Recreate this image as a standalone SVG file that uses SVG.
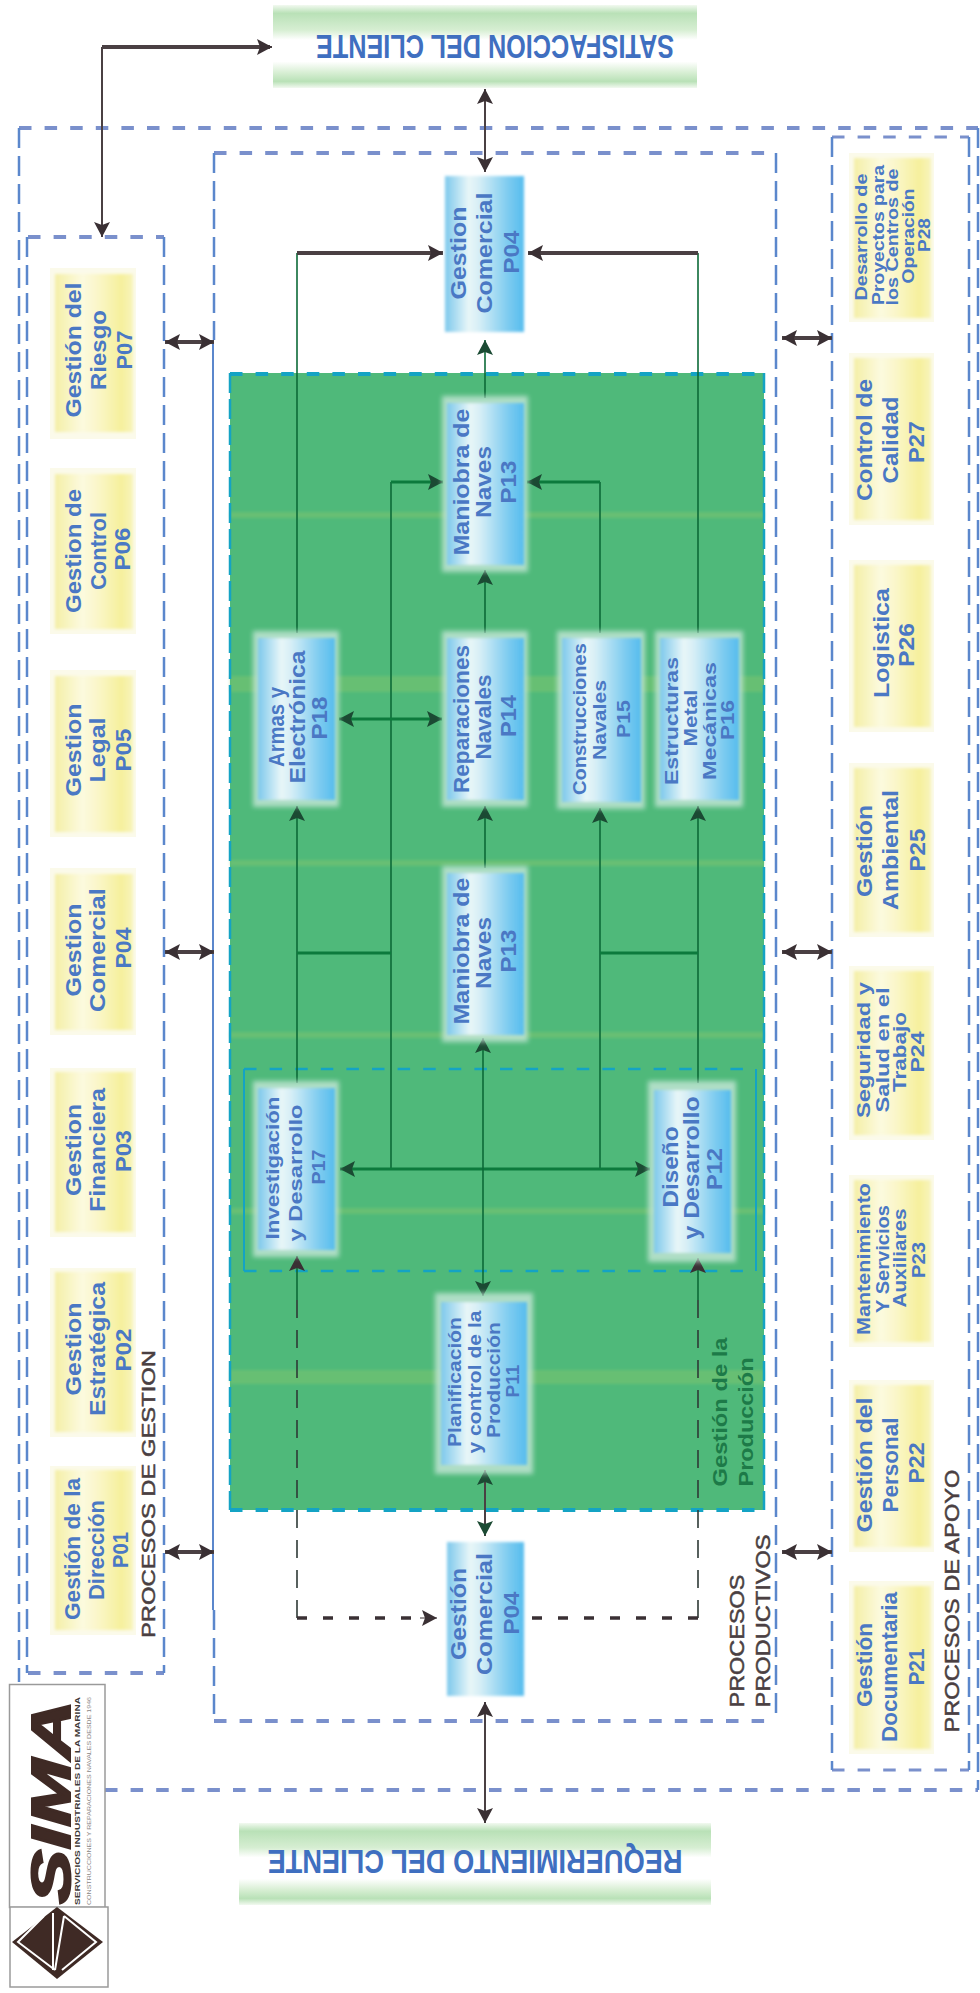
<svg xmlns="http://www.w3.org/2000/svg" width="980" height="1993" viewBox="0 0 980 1993">
<style>
text{font-family:"Liberation Sans",Arial,sans-serif;text-anchor:middle}
.t{font-weight:700;font-size:22px;fill:#4a78c4}
.s{font-weight:700;font-size:17px;fill:#4a78c4}
.m{font-weight:700;font-size:19px;fill:#4a78c4}
.d{font-weight:400;font-size:21px;fill:#4a3f42;stroke:#4a3f42;stroke-width:.5}
.d2{font-weight:400;font-size:18px;fill:#4a3f42;stroke:#4a3f42;stroke-width:.5}
.g{font-weight:700;font-size:21px;fill:#1d7a48}
.h{font-weight:700;font-size:33px;fill:#3f6fc0}
.y{fill:url(#yel);filter:url(#soft1)}
.b{fill:url(#blu);filter:url(#soft1)}
.hy{fill:#fbfaea}
.hb{fill:#cfeadf;opacity:.75;filter:url(#soft)}
.dh{fill:none;stroke:#7a90cc;stroke-width:4;stroke-dasharray:12.500 13.100}
.dv{fill:none;stroke:#5b87cc;stroke-width:2.500;stroke-dasharray:20 8}
.dt{fill:none;stroke:#14a3c4;stroke-width:4;stroke-dasharray:12.500 13.100}
.dtv{fill:none;stroke:#14a3c4;stroke-width:2.500;stroke-dasharray:20 6}
.ln{fill:none;stroke:#0c6a38;stroke-width:1.600}
.lh{fill:none;stroke:#0c7a3c;stroke-width:3}
.lk{fill:none;stroke:#4a4043;stroke-width:2}
.lkh{fill:none;stroke:#4a4043;stroke-width:4}
.lda{fill:none;stroke:#2f3a36;stroke-width:1.600;stroke-dasharray:18 12}
.ldh{fill:none;stroke:#3a3034;stroke-width:3.500;stroke-dasharray:10 16}
.ag{marker-end:url(#hg)}
.ak{marker-end:url(#hk)}
.agb{marker-start:url(#hgs);marker-end:url(#hg)}
.akb{marker-start:url(#hks);marker-end:url(#hk)}
</style>
<defs>
<linearGradient id="yel" x1="0" x2="1" y1="0" y2="0"><stop offset="0" stop-color="#f4efa6"/><stop offset=".35" stop-color="#fcfadf"/><stop offset=".55" stop-color="#faf6c8"/><stop offset=".85" stop-color="#f6f09c"/><stop offset="1" stop-color="#f8f4bc"/></linearGradient>
<linearGradient id="blu" x1="0" x2="1" y1="0" y2="0"><stop offset="0" stop-color="#7cc8ec"/><stop offset=".3" stop-color="#e8f6f8"/><stop offset=".42" stop-color="#d8eff6"/><stop offset=".8" stop-color="#7ccbf0"/><stop offset="1" stop-color="#56bcee"/></linearGradient>
<linearGradient id="grn" x1="0" x2="0" y1="0" y2="1"><stop offset="0" stop-color="#f2f9f0"/><stop offset=".1" stop-color="#b9e1b7"/><stop offset=".3" stop-color="#d6eed2"/><stop offset=".42" stop-color="#fff"/><stop offset=".68" stop-color="#fff"/><stop offset=".82" stop-color="#d6eed2"/><stop offset=".92" stop-color="#b9e1b7"/><stop offset="1" stop-color="#f2f9f0"/></linearGradient>
<filter id="soft" x="-10%" y="-10%" width="120%" height="120%"><feGaussianBlur stdDeviation="2.500"/></filter>
<filter id="soft1" x="-10%" y="-10%" width="120%" height="120%"><feGaussianBlur stdDeviation="1.500"/></filter>
<marker id="hg" markerUnits="userSpaceOnUse" markerWidth="18" markerHeight="18" refX="15" refY="8" orient="auto"><path d="M0 0L15 8L0 16L3 8Z" fill="#1b4a33"/></marker>
<marker id="hgs" markerUnits="userSpaceOnUse" markerWidth="18" markerHeight="18" refX="0" refY="8" orient="auto"><path d="M15 0L0 8L15 16L12 8Z" fill="#1b4a33"/></marker>
<marker id="hk" markerUnits="userSpaceOnUse" markerWidth="18" markerHeight="18" refX="15" refY="8" orient="auto"><path d="M0 0L15 8L0 16L3 8Z" fill="#3a3034"/></marker>
<marker id="hks" markerUnits="userSpaceOnUse" markerWidth="18" markerHeight="18" refX="0" refY="8" orient="auto"><path d="M15 0L0 8L15 16L12 8Z" fill="#3a3034"/></marker>
</defs>
<rect width="980" height="1993" fill="#fff"/>

<g id="area-produccion">
<rect x="230" y="373" width="534" height="1137" fill="#4fb97a"/>
<g fill="#86c76c" opacity=".45" filter="url(#soft1)">
<rect x="230" y="512" width="534" height="6"/><rect x="230" y="676" width="534" height="16"/><rect x="230" y="860" width="534" height="6"/><rect x="230" y="1032" width="534" height="6"/><rect x="230" y="1208" width="534" height="6"/><rect x="230" y="1370" width="534" height="14"/>
</g>
<path class="dt" d="M230 374H764M230 1510H764"/>
<path class="dtv" d="M230 373V1510M764 373V1510"/>
<path class="dt" style="stroke-width:2.500" d="M244 1069H756M244 1271H756"/>
<path class="dtv" style="stroke-dasharray:none;stroke-width:2" d="M244 1069V1271M756 1069V1271"/>
</g>

<g id="marcos">
<path class="dh" d="M19 128H978M105 1790H978"/>
<path class="dv" d="M19 128V1682M978 128V1790"/>
<path class="dh" d="M28 237H164M28 1673H164"/>
<path class="dv" d="M27 237V1673M164 237V1673"/>
<path class="dh" d="M214 153H776M214 1721H776"/>
<path class="dv" d="M214 153V340M214 1610V1721M776 153V1721"/>
<path d="M213 340V1610" fill="none" stroke="#5b87cc" stroke-width="2"/>
<path class="dh" style="stroke-width:3" d="M832 137H969M832 1770H969"/>
<path class="dv" d="M832 137V1770M969 137V1770"/>
</g>

<g id="conectores">
<path class="lkh" d="M102 47H270"/><path class="lk ak" d="M102 47H272"/><path class="lk ak" d="M102 47V237"/>
<path class="lk akb" d="M485 89V172"/>
<path class="lkh akb" d="M165 342H214"/><path class="lkh akb" d="M165 952H214"/><path class="lkh akb" d="M165 1552H214"/>
<path class="lkh akb" d="M782 338H832"/><path class="lkh akb" d="M782 952H832"/><path class="lkh akb" d="M782 1552H832"/>
<path class="ln" d="M297 633V253"/><path class="lkh ak" d="M297 253H443"/>
<path class="ln" d="M698 633V253"/><path class="lkh ak" d="M698 253H528"/>
<path class="ln" d="M391 1168V482"/><path class="lh ag" d="M391 482H443"/>
<path class="ln" d="M600 633V482"/><path class="lh ag" d="M600 482H527"/>
<path class="ln ag" d="M485 398V340"/>
<path class="ln ag" d="M485 633V570"/>
<path class="ln ag" d="M485 868V806"/>
<path class="lh agb" d="M339 719H442"/>
<path class="ln ag" d="M297 1083V806"/>
<path class="ln ag" d="M600 1168V808"/>
<path class="ln ag" d="M698 1083V806"/>
<path class="lh" d="M297 953H391M600 953H698"/>
<path class="lh agb" d="M340 1169H650"/>
<path class="ln agb" d="M483 1038V1296"/>
<path class="ln ak" d="M297 1300V1256"/><path class="lda" d="M297 1300V1618"/>
<path class="ln ak" d="M698 1300V1258"/><path class="lda" d="M698 1300V1618"/>
<path class="ldh" d="M297 1618H423"/><path class="ak" d="M420 1618H437" fill="none" stroke="#3a3034" stroke-width="1"/>
<path class="ldh" d="M698 1618H528"/>
<path class="lk agb" d="M485 1470V1536"/>
<path class="lk akb" d="M485 1702V1823"/>
</g>

<g id="satisfaccion"><rect x="273" y="5" width="424" height="83" fill="url(#grn)"/><text class="h" transform="translate(495,35) rotate(180)" textLength="358" lengthAdjust="spacingAndGlyphs">SATISFACCION DEL CLIENTE</text></g>
<g id="requerimiento"><rect x="239" y="1823" width="472" height="82" fill="url(#grn)"/><text class="h" transform="translate(475,1850) rotate(180)" textLength="415" lengthAdjust="spacingAndGlyphs">REQUERIMIENTO DEL CLIENTE</text></g>

<g id="g-P07"><rect class="hy" x="50" y="268" width="86" height="171"/><rect class="y" x="55" y="274" width="78" height="158"/>
<text class="t" transform="translate(81,350) rotate(-90)" textLength="135" lengthAdjust="spacingAndGlyphs">Gestión del</text><text class="t" transform="translate(106,350) rotate(-90)" textLength="80" lengthAdjust="spacingAndGlyphs">Riesgo</text><text class="t" transform="translate(132,350) rotate(-90)" textLength="39" lengthAdjust="spacingAndGlyphs">P07</text></g>
<g id="g-P06"><rect class="hy" x="50" y="468" width="86" height="166"/><rect class="y" x="55" y="474" width="78" height="155"/>
<text class="t" transform="translate(81,551) rotate(-90)" textLength="124" lengthAdjust="spacingAndGlyphs">Gestion de</text><text class="t" transform="translate(106,551) rotate(-90)" textLength="78" lengthAdjust="spacingAndGlyphs">Control</text><text class="t" transform="translate(130,549) rotate(-90)" textLength="43" lengthAdjust="spacingAndGlyphs">P06</text></g>
<g id="g-P05"><rect class="hy" x="50" y="670" width="86" height="167"/><rect class="y" x="55" y="676" width="78" height="156"/>
<text class="t" transform="translate(81,750) rotate(-90)" textLength="93" lengthAdjust="spacingAndGlyphs">Gestion</text><text class="t" transform="translate(105,750) rotate(-90)" textLength="65" lengthAdjust="spacingAndGlyphs">Legal</text><text class="t" transform="translate(131,750) rotate(-90)" textLength="43" lengthAdjust="spacingAndGlyphs">P05</text></g>
<g id="g-P04"><rect class="hy" x="50" y="868" width="86" height="167"/><rect class="y" x="55" y="874" width="78" height="156"/>
<text class="t" transform="translate(81,950) rotate(-90)" textLength="93" lengthAdjust="spacingAndGlyphs">Gestion</text><text class="t" transform="translate(105,950) rotate(-90)" textLength="124" lengthAdjust="spacingAndGlyphs">Comercial</text><text class="t" transform="translate(131,948) rotate(-90)" textLength="41" lengthAdjust="spacingAndGlyphs">P04</text></g>
<g id="g-P03"><rect class="hy" x="50" y="1068" width="86" height="169"/><rect class="y" x="55" y="1072" width="78" height="160"/>
<text class="t" transform="translate(81,1150) rotate(-90)" textLength="92" lengthAdjust="spacingAndGlyphs">Gestion</text><text class="t" transform="translate(105,1150) rotate(-90)" textLength="124" lengthAdjust="spacingAndGlyphs">Financiera</text><text class="t" transform="translate(131,1151) rotate(-90)" textLength="42" lengthAdjust="spacingAndGlyphs">P03</text></g>
<g id="g-P02"><rect class="hy" x="50" y="1268" width="86" height="169"/><rect class="y" x="55" y="1272" width="78" height="160"/>
<text class="t" transform="translate(81,1349) rotate(-90)" textLength="93" lengthAdjust="spacingAndGlyphs">Gestion</text><text class="t" transform="translate(105,1349) rotate(-90)" textLength="134" lengthAdjust="spacingAndGlyphs">Estratégica</text><text class="t" transform="translate(131,1350) rotate(-90)" textLength="43" lengthAdjust="spacingAndGlyphs">P02</text></g>
<g id="g-P01"><rect class="hy" x="50" y="1466" width="86" height="169"/><rect class="y" x="55" y="1470" width="78" height="160"/>
<text class="t" transform="translate(80,1549) rotate(-90)" textLength="142" lengthAdjust="spacingAndGlyphs">Gestión de la</text><text class="t" transform="translate(104,1550) rotate(-90)" textLength="100" lengthAdjust="spacingAndGlyphs">Dirección</text><text class="t" transform="translate(128,1550) rotate(-90)" textLength="36" lengthAdjust="spacingAndGlyphs">P01</text></g>

<g id="a-P28"><rect class="hy" x="849" y="153" width="85" height="169"/><rect class="y" x="854" y="158" width="77" height="160"/>
<text class="s" transform="translate(867,237) rotate(-90)" textLength="127" lengthAdjust="spacingAndGlyphs">Desarrollo de</text><text class="s" transform="translate(884,235) rotate(-90)" textLength="140" lengthAdjust="spacingAndGlyphs">Proyectos para</text><text class="s" transform="translate(898,237) rotate(-90)" textLength="137" lengthAdjust="spacingAndGlyphs">los Centros de</text><text class="s" transform="translate(914,236) rotate(-90)" textLength="95" lengthAdjust="spacingAndGlyphs">Operación</text><text class="s" transform="translate(930,235) rotate(-90)" textLength="34" lengthAdjust="spacingAndGlyphs">P28</text></g>
<g id="a-P27"><rect class="hy" x="849" y="353" width="85" height="172"/><rect class="y" x="854" y="358" width="77" height="162"/>
<text class="t" transform="translate(872,440) rotate(-90)" textLength="122" lengthAdjust="spacingAndGlyphs">Control de</text><text class="t" transform="translate(898,440) rotate(-90)" textLength="87" lengthAdjust="spacingAndGlyphs">Calidad</text><text class="t" transform="translate(924,442) rotate(-90)" textLength="42" lengthAdjust="spacingAndGlyphs">P27</text></g>
<g id="a-P26"><rect class="hy" x="849" y="560" width="85" height="172"/><rect class="y" x="854" y="565" width="77" height="162"/>
<text class="t" transform="translate(889,643) rotate(-90)" textLength="110" lengthAdjust="spacingAndGlyphs">Logistica</text><text class="t" transform="translate(914,645) rotate(-90)" textLength="44" lengthAdjust="spacingAndGlyphs">P26</text></g>
<g id="a-P25"><rect class="hy" x="849" y="763" width="85" height="174"/><rect class="y" x="854" y="768" width="77" height="164"/>
<text class="t" transform="translate(872,851) rotate(-90)" textLength="92" lengthAdjust="spacingAndGlyphs">Gestión</text><text class="t" transform="translate(898,850) rotate(-90)" textLength="120" lengthAdjust="spacingAndGlyphs">Ambiental</text><text class="t" transform="translate(925,850) rotate(-90)" textLength="43" lengthAdjust="spacingAndGlyphs">P25</text></g>
<g id="a-P24"><rect class="hy" x="849" y="966" width="85" height="174"/><rect class="y" x="854" y="971" width="77" height="164"/>
<text class="m" transform="translate(870,1050) rotate(-90)" textLength="136" lengthAdjust="spacingAndGlyphs">Seguridad y</text><text class="m" transform="translate(889,1050) rotate(-90)" textLength="125" lengthAdjust="spacingAndGlyphs">Salud en el</text><text class="m" transform="translate(906,1052) rotate(-90)" textLength="80" lengthAdjust="spacingAndGlyphs">Trabajo</text><text class="m" transform="translate(924,1052) rotate(-90)" textLength="41" lengthAdjust="spacingAndGlyphs">P24</text></g>
<g id="a-P23"><rect class="hy" x="849" y="1175" width="85" height="172"/><rect class="y" x="854" y="1180" width="77" height="162"/>
<text class="m" transform="translate(870,1259) rotate(-90)" textLength="152" lengthAdjust="spacingAndGlyphs">Mantenimiento</text><text class="m" transform="translate(889,1259) rotate(-90)" textLength="108" lengthAdjust="spacingAndGlyphs">Y Servicios</text><text class="m" transform="translate(906,1258) rotate(-90)" textLength="99" lengthAdjust="spacingAndGlyphs">Auxiliares</text><text class="m" transform="translate(925,1260) rotate(-90)" textLength="36" lengthAdjust="spacingAndGlyphs">P23</text></g>
<g id="a-P22"><rect class="hy" x="849" y="1380" width="85" height="172"/><rect class="y" x="854" y="1385" width="77" height="162"/>
<text class="t" transform="translate(872,1465) rotate(-90)" textLength="135" lengthAdjust="spacingAndGlyphs">Gestión del</text><text class="t" transform="translate(898,1465) rotate(-90)" textLength="95" lengthAdjust="spacingAndGlyphs">Personal</text><text class="t" transform="translate(924,1463) rotate(-90)" textLength="41" lengthAdjust="spacingAndGlyphs">P22</text></g>
<g id="a-P21"><rect class="hy" x="849" y="1581" width="85" height="173"/><rect class="y" x="854" y="1586" width="77" height="163"/>
<text class="t" transform="translate(872,1665) rotate(-90)" textLength="84" lengthAdjust="spacingAndGlyphs">Gestión</text><text class="t" transform="translate(897,1667) rotate(-90)" textLength="150" lengthAdjust="spacingAndGlyphs">Documentaria</text><text class="t" transform="translate(924,1667) rotate(-90)" textLength="37" lengthAdjust="spacingAndGlyphs">P21</text></g>

<g id="n-P04-sup"><rect class="b" x="445" y="176" width="79" height="156"/>
<text class="t" transform="translate(466,253) rotate(-90)" textLength="93" lengthAdjust="spacingAndGlyphs">Gestion</text><text class="t" transform="translate(492,253) rotate(-90)" textLength="121" lengthAdjust="spacingAndGlyphs">Comercial</text><text class="t" transform="translate(519,252) rotate(-90)" textLength="43" lengthAdjust="spacingAndGlyphs">P04</text></g>
<g id="n-P13-sup"><rect class="hb" x="442" y="396" width="86" height="176"/><rect class="b" x="447" y="403" width="77" height="162"/>
<text class="t" transform="translate(469,482) rotate(-90)" textLength="147" lengthAdjust="spacingAndGlyphs">Maniobra de</text><text class="t" transform="translate(491,482) rotate(-90)" textLength="72" lengthAdjust="spacingAndGlyphs">Naves</text><text class="t" transform="translate(516,482) rotate(-90)" textLength="43" lengthAdjust="spacingAndGlyphs">P13</text></g>
<g id="n-P14"><rect class="hb" x="442" y="631" width="86" height="176"/><rect class="b" x="447" y="638" width="77" height="162"/>
<text class="t" transform="translate(469,719) rotate(-90)" textLength="148" lengthAdjust="spacingAndGlyphs">Reparaciones</text><text class="t" transform="translate(491,717) rotate(-90)" textLength="85" lengthAdjust="spacingAndGlyphs">Navales</text><text class="t" transform="translate(516,716) rotate(-90)" textLength="42" lengthAdjust="spacingAndGlyphs">P14</text></g>
<g id="n-P13-inf"><rect class="hb" x="442" y="866" width="86" height="176"/><rect class="b" x="447" y="873" width="77" height="162"/>
<text class="t" transform="translate(469,951) rotate(-90)" textLength="147" lengthAdjust="spacingAndGlyphs">Maniobra de</text><text class="t" transform="translate(491,953) rotate(-90)" textLength="72" lengthAdjust="spacingAndGlyphs">Naves</text><text class="t" transform="translate(516,951) rotate(-90)" textLength="43" lengthAdjust="spacingAndGlyphs">P13</text></g>
<g id="n-P18"><rect class="hb" x="253" y="631" width="86" height="176"/><rect class="b" x="258" y="638" width="77" height="162"/>
<text class="t" transform="translate(284,727) rotate(-90)" textLength="80" lengthAdjust="spacingAndGlyphs">Armas y</text><text class="t" transform="translate(305,717) rotate(-90)" textLength="133" lengthAdjust="spacingAndGlyphs">Electrónica</text><text class="t" transform="translate(327,718) rotate(-90)" textLength="43" lengthAdjust="spacingAndGlyphs">P18</text></g>
<g id="n-P15"><rect class="hb" x="557" y="631" width="88" height="178"/><rect class="b" x="562" y="638" width="79" height="164"/>
<text class="m" transform="translate(586,719) rotate(-90)" textLength="152" lengthAdjust="spacingAndGlyphs">Construcciones</text><text class="m" transform="translate(606,720) rotate(-90)" textLength="80" lengthAdjust="spacingAndGlyphs">Navales</text><text class="m" transform="translate(630,719) rotate(-90)" textLength="38" lengthAdjust="spacingAndGlyphs">P15</text></g>
<g id="n-P16"><rect class="hb" x="655" y="631" width="88" height="176"/><rect class="b" x="660" y="638" width="79" height="162"/>
<text class="m" transform="translate(678,721) rotate(-90)" textLength="128" lengthAdjust="spacingAndGlyphs">Estructuras</text><text class="m" transform="translate(697,718) rotate(-90)" textLength="57" lengthAdjust="spacingAndGlyphs">Metal</text><text class="m" transform="translate(716,721) rotate(-90)" textLength="118" lengthAdjust="spacingAndGlyphs">Mecánicas</text><text class="m" transform="translate(734,720) rotate(-90)" textLength="40" lengthAdjust="spacingAndGlyphs">P16</text></g>
<g id="n-P17"><rect class="hb" x="253" y="1081" width="86" height="176"/><rect class="b" x="258" y="1088" width="77" height="162"/>
<text class="m" transform="translate(279,1168) rotate(-90)" textLength="143" lengthAdjust="spacingAndGlyphs">Investigación</text><text class="m" transform="translate(302,1173) rotate(-90)" textLength="137" lengthAdjust="spacingAndGlyphs">y Desarrollo</text><text class="m" transform="translate(325,1167) rotate(-90)" textLength="35" lengthAdjust="spacingAndGlyphs">P17</text></g>
<g id="n-P12"><rect class="hb" x="648" y="1081" width="88" height="181"/><rect class="b" x="654" y="1090" width="77" height="163"/>
<text class="t" transform="translate(678,1167) rotate(-90)" textLength="81" lengthAdjust="spacingAndGlyphs">Diseño</text><text class="t" transform="translate(699,1168) rotate(-90)" textLength="143" lengthAdjust="spacingAndGlyphs">y Desarrollo</text><text class="t" transform="translate(722,1169) rotate(-90)" textLength="42" lengthAdjust="spacingAndGlyphs">P12</text></g>
<g id="n-P11"><rect class="hb" x="435" y="1293" width="98" height="181"/><rect class="b" x="441" y="1302" width="86" height="163"/>
<text class="m" transform="translate(461,1382) rotate(-90)" textLength="130" lengthAdjust="spacingAndGlyphs">Planificación</text><text class="m" transform="translate(481,1382) rotate(-90)" textLength="143" lengthAdjust="spacingAndGlyphs">y control de la</text><text class="m" transform="translate(500,1380) rotate(-90)" textLength="116" lengthAdjust="spacingAndGlyphs">Producción</text><text class="m" transform="translate(519,1381) rotate(-90)" textLength="33" lengthAdjust="spacingAndGlyphs">P11</text></g>
<g id="n-P04-inf"><rect class="b" x="447" y="1542" width="77" height="154"/>
<text class="t" transform="translate(466,1614) rotate(-90)" textLength="92" lengthAdjust="spacingAndGlyphs">Gestión</text><text class="t" transform="translate(492,1614) rotate(-90)" textLength="122" lengthAdjust="spacingAndGlyphs">Comercial</text><text class="t" transform="translate(519,1613) rotate(-90)" textLength="43" lengthAdjust="spacingAndGlyphs">P04</text></g>

<g id="etiquetas">
<text class="d2" transform="translate(155,1494) rotate(-90)" textLength="288" lengthAdjust="spacingAndGlyphs">PROCESOS DE GESTION</text>
<text class="d" transform="translate(744,1641) rotate(-90)" textLength="133" lengthAdjust="spacingAndGlyphs">PROCESOS</text>
<text class="d" transform="translate(770,1621) rotate(-90)" textLength="173" lengthAdjust="spacingAndGlyphs">PRODUCTIVOS</text>
<text class="d" transform="translate(959,1601) rotate(-90)" textLength="263" lengthAdjust="spacingAndGlyphs">PROCESOS DE APOYO</text>
<text class="g" transform="translate(727,1412) rotate(-90)" textLength="149" lengthAdjust="spacingAndGlyphs">Gestión de la</text>
<text class="g" transform="translate(753,1422) rotate(-90)" textLength="129" lengthAdjust="spacingAndGlyphs">Producción</text>
</g>

<g id="logo">
<rect x="9.500" y="1684.500" width="95.500" height="223" fill="#fff" stroke="#9a9a9a" stroke-width="1.500"/>
<rect x="10" y="1907" width="98" height="80" fill="#fff" stroke="#9a9a9a" stroke-width="1.500"/>
<text transform="translate(70,1802) rotate(-90)" textLength="204" lengthAdjust="spacingAndGlyphs" style="font-weight:700;font-style:italic;font-size:56px;fill:#3f2a25;stroke:#3f2a25;stroke-width:2">SIMA</text>
<text transform="translate(80,1801) rotate(-90)" textLength="208" lengthAdjust="spacingAndGlyphs" style="font-weight:700;font-size:6.500px;fill:#3f3a38">SERVICIOS INDUSTRIALES DE LA MARINA</text>
<text transform="translate(91,1801) rotate(-90)" textLength="208" lengthAdjust="spacingAndGlyphs" style="font-weight:400;font-size:6px;fill:#8a8684">CONSTRUCCIONES Y REPARACIONES NAVALES DESDE 1946</text>
<path d="M12 1942L57 1907L103 1942L57 1979Z" fill="#3f2a25"/>
<path d="M44 1916L18 1942L55 1970M64 1916L96 1942L62 1970M53 1913V1970M64 1916L55 1970" fill="none" stroke="#fff" stroke-width="2"/>
</g>
</svg>
